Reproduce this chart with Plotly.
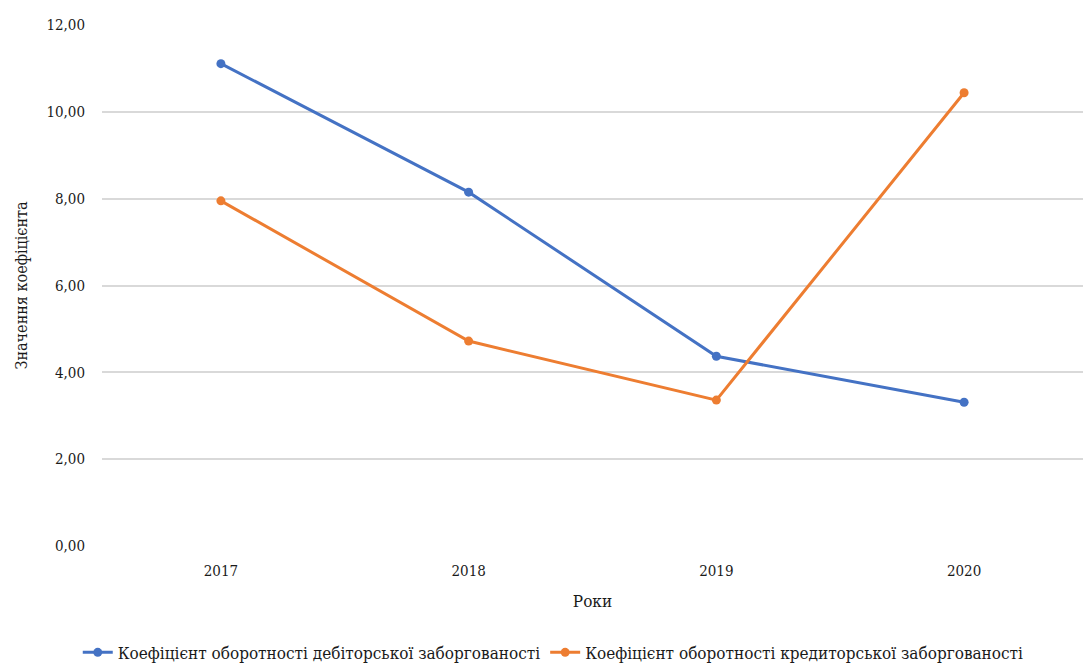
import plotly.graph_objects as go

years = ["2017", "2018", "2019", "2020"]
receivables = [11.11, 8.15, 4.37, 3.31]
payables = [7.95, 4.72, 3.36, 10.44]
name_recv = "Коефіцієнт оборотності дебіторської заборгованості"
name_pay = "Коефіцієнт оборотності кредиторської заборгованості"
y_ticks = [0, 2, 4, 6, 8, 10, 12]

font_family = "DejaVu Serif Condensed"

fig = go.Figure()
fig.add_trace(go.Scatter(x=years, y=receivables, name=name_recv, mode="lines+markers",
                         line=dict(color="#4472C4", width=3), marker=dict(size=9, color="#4472C4")))
fig.add_trace(go.Scatter(x=years, y=payables, name=name_pay, mode="lines+markers",
                         line=dict(color="#ED7D31", width=3), marker=dict(size=9, color="#ED7D31")))

fig.update_layout(
    width=1083, height=666,
    margin=dict(l=102, r=0, t=25, b=120, autoexpand=False),
    plot_bgcolor="white", paper_bgcolor="white",
    separators=", ",
    font=dict(family=font_family, size=14, color="#1a1a1a"),
    xaxis=dict(type="category", range=[-0.48, 3.48], showgrid=False, showline=False,
               ticks="", ticklabelstandoff=14, tickfont=dict(family=font_family, size=15, color="#1a1a1a"),
               title=dict(text="Роки", font=dict(family=font_family, size=17, color="#1a1a1a"), standoff=16)),
    yaxis=dict(range=[0, 12], tickvals=y_ticks, tickformat=".2f", showgrid=True,
               gridcolor="#d9d9d9", gridwidth=1.5, zeroline=False, showline=False,
               ticks="", ticklabelstandoff=16, tickfont=dict(family=font_family, size=15, color="#1a1a1a"),
               title=dict(text="Значення коефіцієнта", font=dict(family=font_family, size=16, color="#1a1a1a"), standoff=14)),
    legend=dict(orientation="h", x=0.46, xanchor="center", y=-0.205, yanchor="middle",
                font=dict(family=font_family, size=17, color="#1a1a1a"), itemwidth=30, tracegroupgap=0),
    showlegend=True,
)

fig.write_html("out.html")
